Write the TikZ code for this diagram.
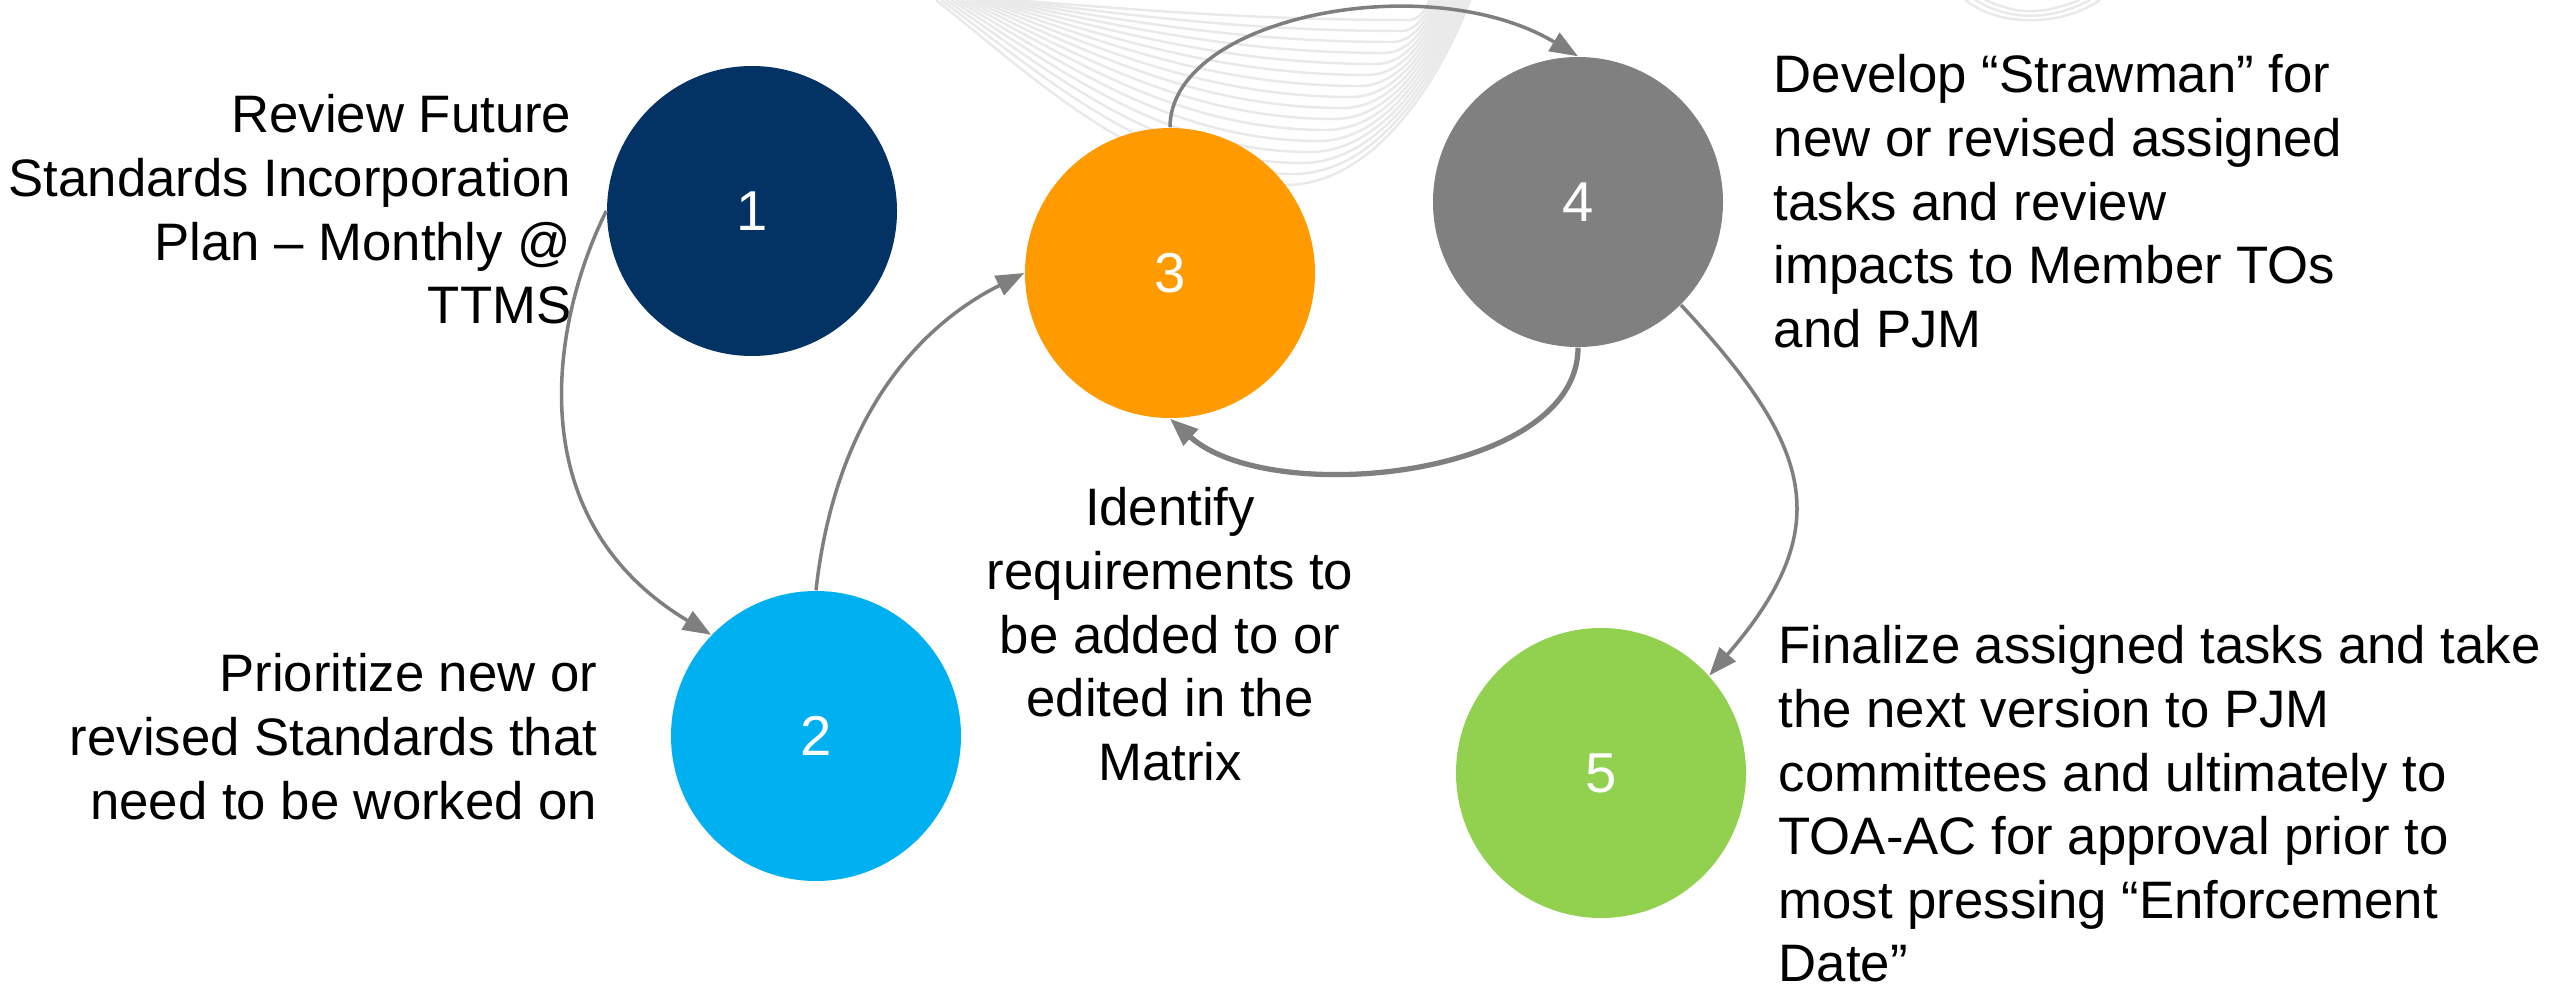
\documentclass[tikz,border=0pt]{standalone}
\usepackage{fontspec}
\setmainfont{Liberation Sans}
\usetikzlibrary{arrows.meta}
\definecolor{stepnavy}{HTML}{033264}
\definecolor{stepcyan}{HTML}{00B0F0}
\definecolor{steporange}{HTML}{FF9A00}
\definecolor{stepgray}{HTML}{808080}
\definecolor{stepgreen}{HTML}{92D050}
\definecolor{flowgray}{HTML}{7F7F7F}
\definecolor{wavegray}{HTML}{E9E9E9}
\tikzset{
  stepcirc/.style={circle, minimum size=2.9cm, inner sep=0pt, text=white, font=\fontsize{16}{19}\selectfont},
  desc/.style={inner sep=0pt, font=\fontsize{15}{18.1}\selectfont},
  flow/.style={draw=flowgray, line width=1pt, -{Triangle[length=8pt,width=6pt]}},
  wave/.style={draw=wavegray, line width=0.7pt}
}
\begin{document}
\begin{tikzpicture}
  %%%%% START %%%%%
  \useasboundingbox (0,0) rectangle (25.54,9.89);

  % faint background lines
  \foreach \i in {0,...,15}{
    \pgfmathsetmacro{\L}{9.36+0.05*\i}
    \pgfmathsetmacro{\H}{1.85-0.11*\i}
    \pgfmathsetmacro{\R}{14.70-0.027*\i}
    \pgfmathsetmacro{\B}{\R-\H}
    \draw[wave] (\L,9.89) .. controls ({\L+0.3*(\B-\L)},{9.89-0.45*\H}) and ({\B-0.4*(\B-\L)},{9.89-\H}) .. (\B,{9.89-\H})
      .. controls ({\B+0.5*(\R-\B)},{9.89-\H}) and ({\R-0.15*(\R-\B)},{9.89-0.4*\H}) .. (\R,9.89);
  }
  \foreach \i in {0,1,2}{
    \draw[wave] ({19.65+0.1*\i},9.89) .. controls ({20.0+0.1*\i},{9.62+0.06*\i}) and ({20.6-0.1*\i},{9.62+0.06*\i}) .. ({21.0-0.1*\i},9.89);
  }

  % steps
  \node[stepcirc, fill=stepnavy] (s1) at (7.52,7.78) {1};
  \node[stepcirc, fill=stepcyan] (s2) at (8.16,2.53) {2};
  \node[stepcirc, fill=steporange] (s3) at (11.70,7.16) {3};
  \node[stepcirc, fill=stepgray] (s4) at (15.78,7.87) {4};
  \node[stepcirc, fill=stepgreen] (s5) at (16.01,2.16) {5};

  % texts
  \node[desc, anchor=north east, align=right] (t1) at (5.72,8.95) {Review Future\\Standards Incorporation\\Plan – Monthly @\\TTMS};
  \node[desc, anchor=north east, align=right] (t2) at (5.98,3.36) {Prioritize new or\\revised Standards that\\need to be worked on};
  \node[desc, anchor=north, align=center] (t3) at (11.70,5.02) {Identify\\requirements to\\be added to or\\edited in the\\Matrix};
  \node[desc, anchor=north west, align=left] (t4) at (17.73,9.35) {Develop “Strawman” for\\new or revised assigned\\tasks and review\\impacts to Member TOs\\and PJM};
  \node[desc, anchor=north west, align=left] (t5) at (17.78,3.64) {Finalize assigned tasks and take\\the next version to PJM\\committees and ultimately to\\TOA-AC for approval prior to\\most pressing “Enforcement\\Date”};

  % arrows
  \draw[flow] (s1.west) .. controls +(-0.5,-1.0) and +(-2.0,1.2) .. (s2.136);
  \draw[flow] (s2.north) .. controls +(0.2,1.8) and +(-1.0,-0.5) .. (s3.west);
  \draw[flow] (s3.north) .. controls +(0,1.1) and +(-1.5,0.9) .. (s4.north);
  \draw[flow, line width=1.5pt] (s4.south) .. controls +(0,-1.3) and +(1.0,-0.9) .. (s3.south);
  \draw[flow] (s4.-45) .. controls +(1.3,-1.4) and +(1.3,1.5) .. (s5.42);
  %%%%% END %%%%%
\end{tikzpicture}
\end{document}
